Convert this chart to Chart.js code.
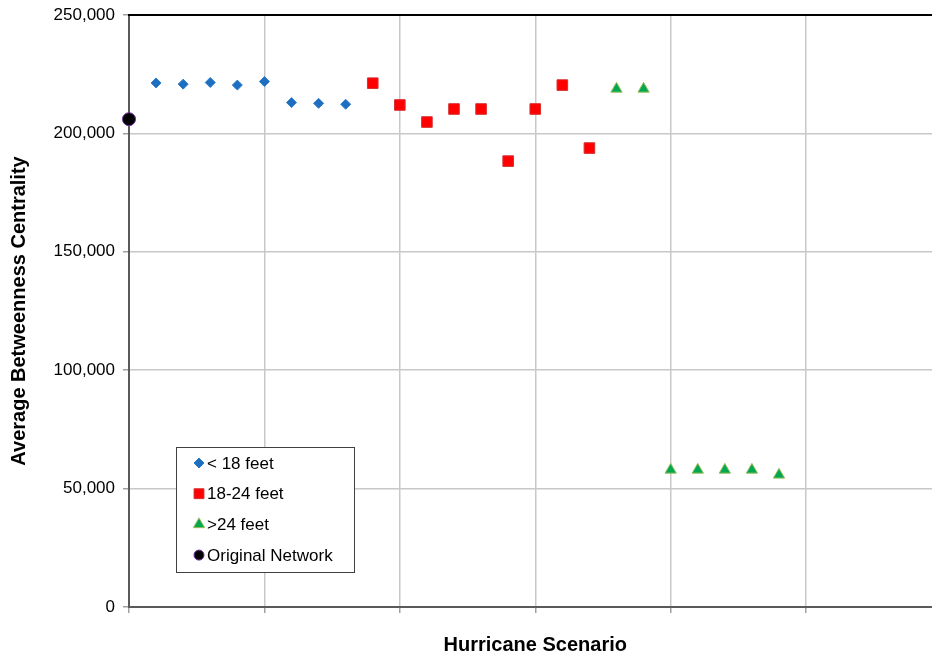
<!DOCTYPE html>
<html>
<head>
<meta charset="utf-8">
<script src="https://cdn.jsdelivr.net/npm/chart.js@4/dist/chart.umd.min.js"></script>
<style>
html,body{margin:0;padding:0;background:#fff;overflow:hidden;}
#wrap{width:950px;height:658px;}
</style>
</head>
<body>
<div id="wrap"><canvas id="c" width="950" height="658"></canvas></div>
<script>
const seriesNames = ['< 18 feet', '18-24 feet', '>24 feet', 'Original Network'];
const lowScenarios = [1, 2, 3, 4, 5, 6, 7, 8];
const lowValues = [221300, 220800, 221500, 220400, 221900, 213000, 212700, 212300];
const midScenarios = [9, 10, 11, 12, 13, 14, 15, 16, 17];
const midValues = [221200, 212000, 204800, 210300, 210300, 188300, 210300, 220400, 193800];
const highScenarios = [18, 19, 20, 21, 22, 23, 24];
const highValues = [218800, 218800, 57900, 57900, 57900, 57900, 55800];
const originalScenarios = [0];
const originalValues = [206000];
const yTicks = [0, 50000, 100000, 150000, 200000, 250000];

const toPts = (xs, ys) => xs.map((x, i) => ({x: x, y: ys[i]}));
const FONT = "'Liberation Sans', Arial, sans-serif";

const topBorder = {
  id: 'topBorder',
  afterDraw(chart) {
    const {ctx, chartArea} = chart;
    ctx.save();
    ctx.strokeStyle = '#000';
    ctx.lineWidth = 2;
    ctx.beginPath();
    ctx.moveTo(chartArea.left - 1, chartArea.top);
    ctx.lineTo(chartArea.right + 2, chartArea.top);
    ctx.stroke();
    ctx.restore();
  }
};

const boxLegend = {
  id: 'boxLegend',
  afterDraw(chart) {
    const ctx = chart.ctx;
    const bx = 176, by = 447, bw = 178, bh = 125;
    ctx.save();
    ctx.fillStyle = '#fff';
    ctx.fillRect(bx, by, bw, bh);
    ctx.strokeStyle = '#404040';
    ctx.lineWidth = 1;
    ctx.strokeRect(bx + 0.5, by + 0.5, bw, bh);
    ctx.font = '17px ' + FONT;
    ctx.textBaseline = 'middle';
    ctx.textAlign = 'left';
    chart.data.datasets.forEach((ds, i) => {
      const cy = by + 16 + i * 30.7;
      const mx = 199;
      ctx.fillStyle = ds.backgroundColor;
      ctx.strokeStyle = ds.borderColor;
      ctx.lineWidth = 1;
      Chart.helpers.drawPoint(ctx, {pointStyle: ds.pointStyle, radius: ds.legendRadius, rotation: 0, borderWidth: 1}, mx, cy);
      ctx.fillStyle = '#000';
      ctx.fillText(ds.label, 207, cy + 1);
    });
    ctx.restore();
  }
};

new Chart(document.getElementById('c'), {
  type: 'scatter',
  data: {
    datasets: [
      {label: seriesNames[0], data: toPts(lowScenarios, lowValues), pointStyle: 'rectRot', pointRadius: 5, legendRadius: 5,
       backgroundColor: '#1F6FC0', borderColor: '#2C7BC8', borderWidth: 1},
      {label: seriesNames[1], data: toPts(midScenarios, midValues), pointStyle: 'rect', pointRadius: 7.5, legendRadius: 7,
       backgroundColor: '#FF0000', borderColor: '#D83030', borderWidth: 1},
      {label: seriesNames[2], data: toPts(highScenarios, highValues), pointStyle: 'triangle', pointRadius: 6.5, legendRadius: 6.5,
       backgroundColor: '#00A850', borderColor: '#9BBB59', borderWidth: 1},
      {label: seriesNames[3], data: toPts(originalScenarios, originalValues), pointStyle: 'circle', pointRadius: 6.5, legendRadius: 5,
       backgroundColor: '#000000', borderColor: '#7030A0', borderWidth: 1}
    ]
  },
  options: {
    responsive: false,
    animation: false,
    clip: false,
    layout: {padding: {left: 0, top: 15, right: 6, bottom: 0}},
    plugins: {legend: {display: false}, tooltip: {enabled: false}},
    scales: {
      x: {
        type: 'linear', min: 0, max: 30,
        ticks: {stepSize: 5, callback: () => '', font: {size: 17, family: FONT}},
        grid: {color: '#C8C8C8', lineWidth: 1.5, tickLength: 6, tickColor: '#A0A0A0'},
        border: {color: '#5A5A5A', width: 2},
        title: {display: true, text: 'Hurricane Scenario', color: '#000', font: {size: 20, weight: 'bold', family: FONT}, padding: {top: 0, bottom: 1}},
        afterFit(s) { s.height = 51; s.paddingLeft = 0; s.paddingRight = 0; }
      },
      y: {
        min: 0, max: 250000,
        afterBuildTicks(s) { s.ticks = yTicks.map(v => ({value: v})); },
        ticks: {color: '#000', font: {size: 17, family: FONT}, padding: 8,
          callback: v => v.toLocaleString('en-US')},
        grid: {color: '#C8C8C8', lineWidth: 1.5, tickLength: 6, tickColor: '#A0A0A0'},
        border: {color: '#5A5A5A', width: 2},
        title: {display: true, text: 'Average Betweenness Centrality', color: '#000', font: {size: 20, weight: 'bold', family: FONT}, padding: {top: 7, bottom: 0}},
        afterFit(s) { s.width = 129; s.paddingTop = 0; s.paddingBottom = 0; }
      }
    }
  },
  plugins: [topBorder, boxLegend]
});
</script>
</body>
</html>
